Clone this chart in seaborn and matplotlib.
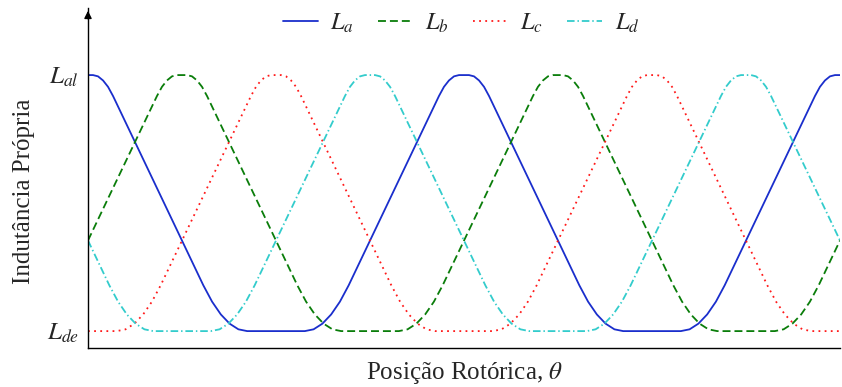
import numpy as np
import pandas as pd
import matplotlib
matplotlib.use("Agg")
import matplotlib.pyplot as plt
import seaborn as sns

# Rotor position (degrees) and normalised self-inductance (0 = L_de, 1 = L_al),
# read from the picture as the vertices of each rounded trapezoidal profile.
La_x = [0, 0.8, 1.6, 2.4, 3.2, 4.0, 18.4, 19.8, 21.2, 22.6, 24.0, 25.4, 34.6, 36.0, 37.4, 38.8, 40.2, 41.6,
        56.0, 56.8, 57.6, 58.4, 59.2, 60.8, 61.6, 62.4, 63.2, 64.0, 78.4, 79.8, 81.2, 82.6, 84.0, 85.4,
        94.6, 96.0, 97.4, 98.8, 100.2, 101.6, 116.0, 116.8, 117.6, 118.4, 119.2, 120]
La_y = [1.0, 1.0, .995, .979, .954, .918, .179, .115, .065, .029, .007, 0, 0, .007, .029, .065, .115, .179,
        .918, .954, .979, .995, 1.0, 1.0, .995, .979, .954, .918, .179, .115, .065, .029, .007, 0,
        0, .007, .029, .065, .115, .179, .918, .954, .979, .995, 1.0, 1.0]

Lb_x = [0, 11.0, 11.8, 12.6, 13.4, 14.2, 15.8, 16.6, 17.4, 18.2, 19.0, 33.4, 34.8, 36.2, 37.6, 39.0, 40.4,
        49.6, 51.0, 52.4, 53.8, 55.2, 56.6, 71.0, 71.8, 72.6, 73.4, 74.2, 75.8, 76.6, 77.4, 78.2, 79.0,
        93.4, 94.8, 96.2, 97.6, 99.0, 100.4, 109.6, 111.0, 112.4, 113.8, 115.2, 116.6, 120]
Lb_y = [.354, .918, .954, .979, .995, 1.0, 1.0, .995, .979, .954, .918, .179, .115, .065, .029, .007, 0,
        0, .007, .029, .065, .115, .179, .918, .954, .979, .995, 1.0, 1.0, .995, .979, .954, .918,
        .179, .115, .065, .029, .007, 0, 0, .007, .029, .065, .115, .179, .354]

Lc_x = [0, 4.6, 6.0, 7.4, 8.8, 10.2, 11.6, 26.0, 26.8, 27.6, 28.4, 29.2, 30.8, 31.6, 32.4, 33.2, 34.0,
        48.4, 49.8, 51.2, 52.6, 54.0, 55.4, 64.6, 66.0, 67.4, 68.8, 70.2, 71.6, 86.0, 86.8, 87.6, 88.4, 89.2,
        90.8, 91.6, 92.4, 93.2, 94.0, 108.4, 109.8, 111.2, 112.6, 114.0, 115.4, 120]
Lc_y = [0, 0, .007, .029, .065, .115, .179, .918, .954, .979, .995, 1.0, 1.0, .995, .979, .954, .918,
        .179, .115, .065, .029, .007, 0, 0, .007, .029, .065, .115, .179, .918, .954, .979, .995, 1.0,
        1.0, .995, .979, .954, .918, .179, .115, .065, .029, .007, 0, 0]

Ld_x = [0, 3.4, 4.8, 6.2, 7.6, 9.0, 10.4, 19.6, 21.0, 22.4, 23.8, 25.2, 26.6, 41.0, 41.8, 42.6, 43.4, 44.2,
        45.8, 46.6, 47.4, 48.2, 49.0, 63.4, 64.8, 66.2, 67.6, 69.0, 70.4, 79.6, 81.0, 82.4, 83.8, 85.2, 86.6,
        101.0, 101.8, 102.6, 103.4, 104.2, 105.8, 106.6, 107.4, 108.2, 109.0, 120]
Ld_y = [.354, .179, .115, .065, .029, .007, 0, 0, .007, .029, .065, .115, .179, .918, .954, .979, .995, 1.0,
        1.0, .995, .979, .954, .918, .179, .115, .065, .029, .007, 0, 0, .007, .029, .065, .115, .179,
        .918, .954, .979, .995, 1.0, 1.0, .995, .979, .954, .918, .354]

series_labels = [r"$L_a$", r"$L_b$", r"$L_c$", r"$L_d$"]
ytick_values = [0.0, 1.0]
ytick_labels = [r"$L_{de}$", r"$L_{al}$"]

sns.set_style("white")
plt.rcParams["font.family"] = ["Liberation Serif", "DejaVu Serif"]
plt.rcParams["mathtext.fontset"] = "stix"

fig = plt.figure(figsize=(8.42, 3.87), dpi=100)
ax = fig.add_axes([88 / 842, 1 - 348 / 387, 752 / 842, 340 / 387])

colors = ["#1a2ecc", "#0a7d0a", "#ff1a1a", "#33cccc"]
styles = ["-", (0, (4.4, 2.2)), (0, (1, 2.4)), (0, (4.2, 1.6, 0.8, 1.6))]
data = [(La_x, La_y), (Lb_x, Lb_y), (Lc_x, Lc_y), (Ld_x, Ld_y)]
for (xs, ys), lab, col, ls in zip(data, series_labels, colors, styles):
    sns.lineplot(x=xs, y=ys, ax=ax, color=col, linestyle=ls, lw=1.3, label=lab,
                 sort=False, estimator=None)

ax.set_xlim(0, 120)
ax.set_ylim(-0.066, 1.262)
ax.set_xticks([])
ax.set_yticks(ytick_values)
ax.set_yticklabels(ytick_labels, fontsize=18)
ax.tick_params(axis="y", length=0, pad=6.5)

for s in ["top", "right"]:
    ax.spines[s].set_visible(False)
for s in ["left", "bottom"]:
    ax.spines[s].set_color("black")
    ax.spines[s].set_linewidth(1.0)

ax.annotate("", xy=(0, 1.0), xytext=(0, 0.96), xycoords="axes fraction",
            arrowprops=dict(arrowstyle="-|>", color="black", lw=1.0, mutation_scale=11))

ax.set_xlabel(r"Posição Rotórica, $\theta$", fontsize=18, labelpad=9)
ax.set_ylabel("Indutância Própria", fontsize=18)
ax.yaxis.set_label_coords(-0.07, 0.46)

ax.legend(loc="center", bbox_to_anchor=(0.496, 0.955), ncol=4, frameon=False,
          fontsize=17.5, handlelength=1.44, handletextpad=0.5, columnspacing=1.0)

fig.savefig("out.png", dpi=100)
